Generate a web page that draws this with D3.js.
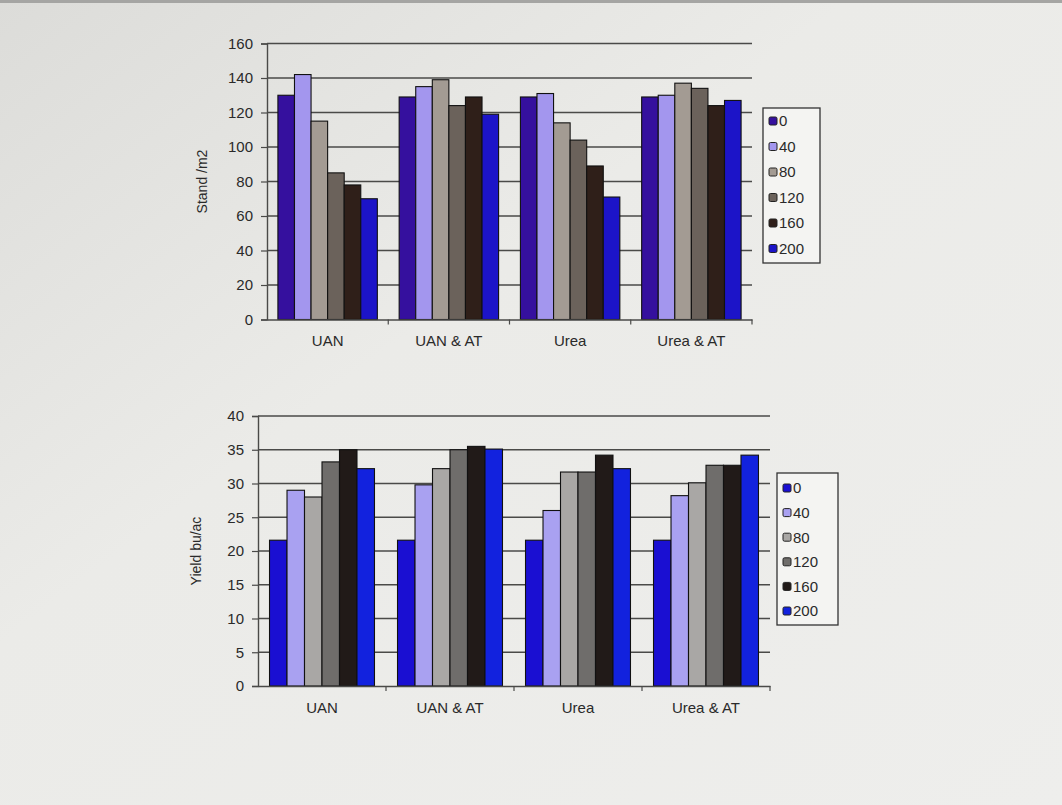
<!DOCTYPE html>
<html><head><meta charset="utf-8">
<script src="https://cdn.jsdelivr.net/npm/d3@7"></script>
<style>
html,body{margin:0;padding:0;background:#e9e9e6;}
svg{display:block;}
text{font-family:"Liberation Sans",Arial,sans-serif;fill:#2a2a2a;}
</style></head><body>
<svg id="c" width="1062" height="805"></svg>
<script>
const categories = ["UAN", "UAN & AT", "Urea", "Urea & AT"];
const rates = ["0", "40", "80", "120", "160", "200"];
// Stand /m2 per category, one value per rate
const standUAN    = [130, 142, 115, 85, 78, 70];
const standUANAT  = [129, 135, 139, 124, 129, 119];
const standUrea   = [129, 131, 114, 104, 89, 71];
const standUreaAT = [129, 130, 137, 134, 124, 127];
// Yield bu/ac
const yieldUAN    = [21.6, 29, 28, 33.2, 35, 32.2];
const yieldUANAT  = [21.6, 29.8, 32.2, 35, 35.5, 35.1];
const yieldUrea   = [21.6, 26, 31.7, 31.7, 34.2, 32.2];
const yieldUreaAT = [21.6, 28.2, 30.1, 32.7, 32.7, 34.2];
const standTicks = [0, 20, 40, 60, 80, 100, 120, 140, 160];
const yieldTicks = [0, 5, 10, 15, 20, 25, 30, 35, 40];

const colorsTop = ["#35109e", "#a396ee", "#a39b93", "#6b625b", "#2f1f19", "#1c14c8"];
const colorsBot = ["#1a0fd2", "#a9a1f1", "#a9a7a5", "#6f6d6b", "#211a18", "#1222de"];

const svg = d3.select("#c");

// background photo-like shading
const defs = svg.append("defs");
const g0 = defs.append("linearGradient").attr("id","bg").attr("x1",0).attr("y1",0).attr("x2",1).attr("y2",1);
g0.append("stop").attr("offset","0%").attr("stop-color","#dcdcd9");
g0.append("stop").attr("offset","40%").attr("stop-color","#ebebe8");
g0.append("stop").attr("offset","100%").attr("stop-color","#eeeeec");
svg.append("rect").attr("width",1062).attr("height",805).attr("fill","url(#bg)");
svg.append("rect").attr("width",1062).attr("height",3).attr("fill","#a5a5a3");

function drawChart(cfg){
  const g = svg.append("g");
  const x = d3.scaleBand().domain(categories).range([cfg.x0, cfg.x1]).paddingInner(0.18).paddingOuter(0.09);
  const xs = d3.scaleBand().domain(rates).range([0, x.bandwidth()]);
  const y = d3.scaleLinear().domain([0, cfg.max]).range([cfg.y0, cfg.yTop]);

  // gridlines
  g.selectAll(".grid").data(cfg.ticks.filter(t=>t>0)).join("line")
    .attr("x1", cfg.x0).attr("x2", cfg.x1)
    .attr("y1", d=>y(d)).attr("y2", d=>y(d))
    .attr("stroke", "#4a4a48").attr("stroke-width", 1.4);

  // bars
  const grp = g.selectAll(".cat").data(categories).join("g")
    .attr("transform", d=>`translate(${x(d)},0)`);
  grp.selectAll("rect").data((d,i)=>cfg.series[i].map((v,j)=>({v, r: rates[j], j})))
    .join("rect")
    .attr("x", d=>xs(d.r)).attr("width", xs.bandwidth())
    .attr("y", d=>y(d.v)).attr("height", d=>cfg.y0 - y(d.v))
    .attr("fill", d=>cfg.colors[d.j]).attr("stroke", "#111").attr("stroke-width", 1.1);

  // y axis
  const ya = g.append("g").attr("transform", `translate(${cfg.x0},0)`)
    .call(d3.axisLeft(y).tickValues(cfg.ticks).tickSize(6).tickPadding(8));
  ya.select(".domain").attr("stroke", "#4a4a48").attr("stroke-width", 1.4);
  ya.selectAll(".tick line").attr("stroke", "#4a4a48").attr("stroke-width", 1.2);
  ya.selectAll("text").style("font-size", "15px").attr("fill", "#2e2e2e");

  // x axis
  const xa = g.append("g").attr("transform", `translate(0,${cfg.y0})`)
    .call(d3.axisBottom(x).tickSize(0).tickPadding(16));
  xa.select(".domain").attr("stroke", "#4a4a48").attr("stroke-width", 1.4);
  xa.selectAll("text").style("font-size", "15px").attr("fill", "#2e2e2e");
  // category separator ticks
  const step = x.step();
  g.selectAll(".sep").data(d3.range(1, categories.length + 1)).join("line")
    .attr("x1", d=>cfg.x0 + d*step).attr("x2", d=>cfg.x0 + d*step)
    .attr("y1", cfg.y0).attr("y2", cfg.y0 + 5)
    .attr("stroke", "#4a4a48").attr("stroke-width", 1.2);

  // y label
  g.append("text").attr("transform", `translate(${cfg.labelX},${(cfg.y0+cfg.yTop)/2}) rotate(-90)`)
    .attr("text-anchor", "middle").style("font-size", "14px").attr("fill", "#444").text(cfg.label);

  // legend
  const L = cfg.legend;
  g.append("rect").attr("x", L.x).attr("y", L.y).attr("width", L.w).attr("height", L.h)
    .attr("fill", "#f4f4f2").attr("stroke", "#333").attr("stroke-width", 1.3);
  const li = g.selectAll(".leg").data(rates).join("g")
    .attr("transform", (d,i)=>`translate(${L.x+6},${L.y + L.pad + i*L.step})`);
  li.append("rect").attr("x", 0).attr("y", -4).attr("width", 8).attr("height", 8).attr("rx", 1.5)
    .attr("fill", (d,i)=>cfg.colors[i]).attr("stroke", "#222").attr("stroke-width", 1);
  li.append("text").attr("x", 10).attr("y", 0).attr("dy", "0.36em")
    .style("font-size", "15px").attr("fill", "#2e2e2e").text(d=>d);
}

drawChart({
  x0: 267, x1: 752, y0: 319.5, yTop: 43.5, max: 160, ticks: standTicks,
  series: [standUAN, standUANAT, standUrea, standUreaAT], colors: colorsTop,
  label: "Stand /m2", labelX: 207,
  legend: {x: 763, y: 108, w: 57, h: 155, pad: 13, step: 25.5}
});
drawChart({
  x0: 258, x1: 770, y0: 686, yTop: 416, max: 40, ticks: yieldTicks,
  series: [yieldUAN, yieldUANAT, yieldUrea, yieldUreaAT], colors: colorsBot,
  label: "Yield bu/ac", labelX: 201,
  legend: {x: 777, y: 473, w: 61, h: 152, pad: 15, step: 24.6}
});
</script>
</body></html>
